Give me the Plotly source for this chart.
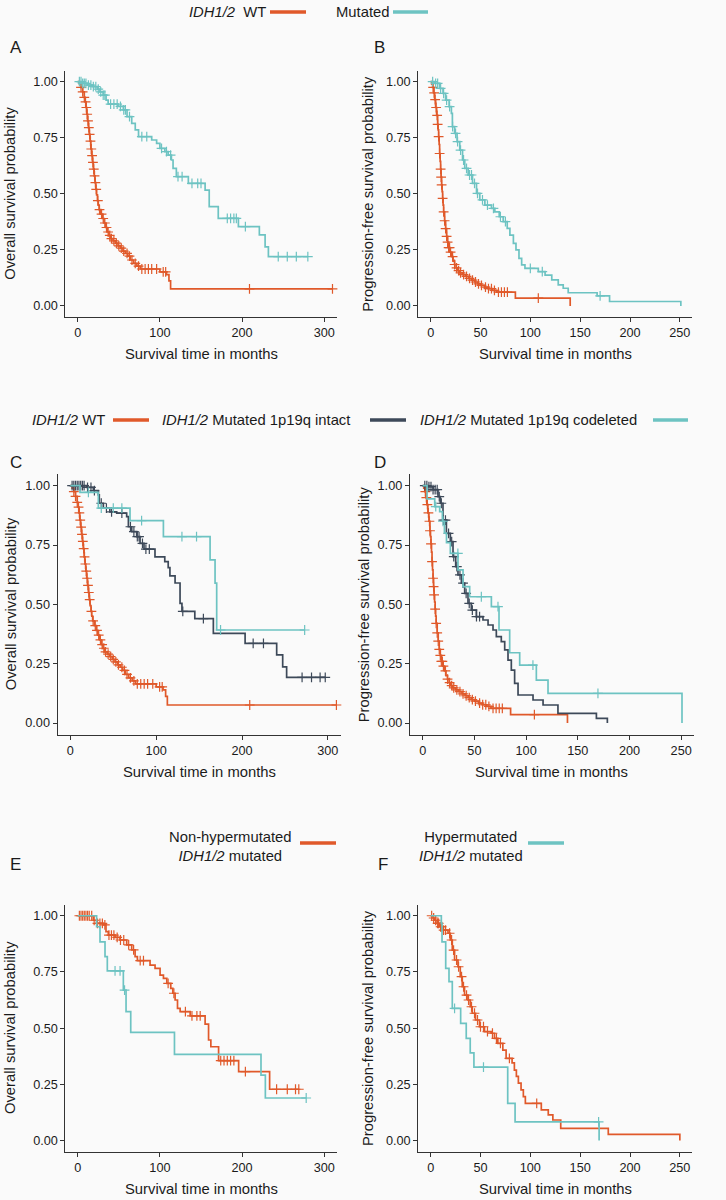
import numpy as np
import plotly.graph_objects as go

W, H = 726, 1200
ORANGE = "#E0592A"
TEAL = "#6DC3C2"
DARK = "#3D4959"
AXIS = "#333333"
BG = "#FAFAFA"
FONT = "Liberation Sans, Arial, sans-serif"

# ---------------- DATA ----------------
# IDH1/2 WT - overall survival (panels A, C)
wt_os_time = [0, 2, 4, 6, 8, 9, 10, 11, 12, 13, 14, 15, 16, 17, 18, 19, 20, 21, 22, 23, 24, 25, 26, 28,
              30, 32, 34, 36, 38, 40, 43, 46, 49, 52, 55, 58, 61, 64, 68, 72, 76, 100, 108, 111, 113]
wt_os_surv = [1, 0.99, 0.975, 0.955, 0.93, 0.91, 0.885, 0.855, 0.825, 0.795, 0.765, 0.735, 0.70, 0.67,
              0.64, 0.61, 0.58, 0.55, 0.52, 0.495, 0.47, 0.45, 0.43, 0.41, 0.39, 0.37, 0.35, 0.33, 0.315,
              0.30, 0.29, 0.28, 0.268, 0.258, 0.245, 0.235, 0.222, 0.205, 0.19, 0.178, 0.165, 0.152, 0.14,
              0.112, 0.076]
wt_os_end = 310
wt_os_cens = [4, 6, 8, 9.5, 10.5, 11.5, 12.5, 13.5, 14.5, 15.5, 16.5, 17.5, 18.5, 19.5, 20.5, 21.5, 22.5,
              24.5, 26.5, 29, 31, 33, 35, 37, 39, 41, 44, 47, 50, 53, 56, 60, 63, 66, 70, 74, 78, 82, 86,
              90, 96, 104, 107, 209, 310]

# IDH1/2 WT - progression-free survival (panels B, D)
wt_pfs_time = [0, 1, 2, 3, 4, 5, 6, 7, 7.5, 8, 8.5, 9, 9.5, 10, 10.5, 11, 11.5, 12, 12.5, 13, 14, 15, 16,
               17, 18, 19.5, 21, 22.5, 24, 25.5, 27, 29, 32, 35, 38, 41, 44, 47, 50, 54, 58, 62, 66, 85, 140]
wt_pfs_surv = [1, 0.99, 0.975, 0.95, 0.92, 0.885, 0.85, 0.81, 0.785, 0.755, 0.72, 0.68, 0.645, 0.61,
               0.575, 0.54, 0.51, 0.48, 0.45, 0.42, 0.38, 0.345, 0.31, 0.285, 0.26, 0.24, 0.22, 0.2, 0.185,
               0.17, 0.158, 0.148, 0.14, 0.132, 0.123, 0.115, 0.107, 0.099, 0.092, 0.084, 0.077, 0.07,
               0.062, 0.035, 0]
wt_pfs_end = 140
wt_pfs_cens = [2.5, 3.5, 4.5, 5.5, 6.5, 7, 8, 9, 10, 10.5, 11, 12, 13, 14, 15, 16, 17, 18, 19, 20, 22,
               24, 26, 28, 30, 33, 36, 39, 42, 45, 48, 51, 55, 58, 61, 64, 68, 71, 74, 77, 108]

# IDH1/2 mutated - overall survival (panel A)
mut_os_time = [0, 6, 12, 19, 24, 27, 31, 34.5, 37, 49, 55.5, 60, 65.7, 70, 74, 90, 96, 100, 106, 110,
               114, 116, 120, 134.6, 155, 160, 171, 195.5, 221, 228, 232]
mut_os_surv = [1, 0.993, 0.985, 0.978, 0.967, 0.955, 0.94, 0.918, 0.90, 0.89, 0.874, 0.844, 0.814, 0.785,
               0.755, 0.74, 0.725, 0.703, 0.688, 0.673, 0.651, 0.614, 0.577, 0.547, 0.517, 0.443, 0.391,
               0.354, 0.317, 0.264, 0.22]
mut_os_end = 280
mut_os_cens = [2, 4, 6, 8, 10, 13, 16, 19, 22, 25, 28, 31, 33, 40, 44, 48, 52, 56, 58, 63, 78, 84, 102,
               108, 113, 122, 127, 139, 146, 150, 182, 186, 190, 193, 204, 244, 255, 266, 280]

# IDH1/2 mutated - progression-free survival (panel B)
mut_pfs_time = [0, 4, 9, 12.4, 15, 18.5, 20.8, 21.8, 24, 26.5, 29.2, 32, 34.2, 37.6, 42, 46, 49.3, 54.4,
                61, 64.4, 68.8, 72.8, 76.8, 79.5, 83, 85.6, 88.6, 91.3, 94.6, 108, 114.8, 121.5, 128, 133,
                138, 167, 179.5, 251]
mut_pfs_surv = [1, 0.993, 0.97, 0.948, 0.918, 0.889, 0.859, 0.80, 0.77, 0.733, 0.695, 0.651, 0.614, 0.584,
                0.547, 0.502, 0.473, 0.45, 0.435, 0.42, 0.398, 0.376, 0.346, 0.316, 0.279, 0.25, 0.212,
                0.183, 0.168, 0.153, 0.138, 0.116, 0.094, 0.079, 0.059, 0.045, 0.02, 0]
mut_pfs_end = 251
mut_pfs_cens = [2, 5, 7, 10, 13, 16, 19, 22, 25, 27, 30, 33, 36, 39, 41, 44, 47, 52, 57, 63, 70, 75, 100,
                112, 170]

# IDH1/2 mutated 1p19q intact - overall survival (panel C)
int_os_time = [0, 19, 26.8, 32.6, 33.7, 38.4, 46, 54, 65.6, 67.6, 71.5, 77.3, 81.2, 85.8, 98.6, 110, 114,
               116, 122, 127.8, 130, 145, 166.6, 203.6, 240.4, 247.4, 252]
int_os_surv = [1, 0.993, 0.979, 0.961, 0.926, 0.905, 0.89, 0.884, 0.87, 0.827, 0.806, 0.785, 0.757, 0.733,
               0.70, 0.68, 0.655, 0.62, 0.59, 0.504, 0.47, 0.44, 0.378, 0.336, 0.287, 0.237, 0.192]
int_os_end = 297
int_os_cens = [2, 4, 6, 8, 10, 12, 14, 16, 20, 24, 28, 36, 42, 48, 60, 70, 74, 78, 80, 84, 88, 92, 131,
               155, 213, 225, 270, 281, 291, 297]

# IDH1/2 mutated 1p19q codeleted - overall survival (panel C)
cod_os_time = [0, 11.2, 32.6, 69.5, 108.4, 162.8, 168.6, 170.5]
cod_os_surv = [1, 0.972, 0.905, 0.853, 0.785, 0.687, 0.589, 0.392]
cod_os_end = 273
cod_os_cens = [21, 36, 50, 60, 83, 130, 147, 175, 273]

# IDH1/2 mutated 1p19q intact - progression-free survival (panel D)
int_pfs_time = [0, 5, 10, 14.8, 17, 19.6, 22.9, 26.7, 29.3, 31.9, 34.1, 37.4, 40.6, 43.8, 47, 51.9, 58.3,
                63.2, 68, 71.2, 76, 79.3, 82.5, 85.7, 88.9, 92.2, 106.7, 116.4, 130.8, 168, 178.6]
int_pfs_surv = [1, 0.996, 0.983, 0.954, 0.926, 0.855, 0.799, 0.764, 0.701, 0.659, 0.624, 0.589, 0.546,
                0.504, 0.476, 0.448, 0.434, 0.413, 0.392, 0.364, 0.343, 0.308, 0.265, 0.223, 0.167, 0.118,
                0.097, 0.076, 0.041, 0.020, 0]
int_pfs_end = 178.6
int_pfs_cens = [2, 4, 6, 8, 10, 12, 14, 16, 18, 20, 22, 25, 28, 30, 33, 36, 39, 42, 45, 48, 52, 55]

# IDH1/2 mutated 1p19q codeleted - progression-free survival (panel D)
cod_pfs_time = [0, 4.2, 11.6, 16.4, 19, 21, 23, 26.7, 34.1, 39, 45.4, 66.4, 73.8, 84.1, 93.8, 109.9,
                121.2, 250.8]
cod_pfs_surv = [1, 0.944, 0.912, 0.891, 0.85, 0.80, 0.76, 0.715, 0.645, 0.575, 0.532, 0.49, 0.392, 0.296,
                0.244, 0.181, 0.125, 0]
cod_pfs_end = 250.8
cod_pfs_cens = [12.6, 19.6, 34, 56.7, 72.8, 106.6, 169.5]

# Non-hypermutated IDH1/2 mutated - overall survival (panel E)
nhm_os_time = [0, 19, 23, 31, 34.4, 37.2, 45.4, 51.5, 59.6, 65.7, 69.8, 72.6, 88, 94.1, 100.2, 104.3,
               108.4, 113.2, 115.7, 118.5, 121.4, 124.6, 136.8, 155, 159.2, 162, 171.4, 195.8, 233.5]
nhm_os_surv = [1, 0.98, 0.966, 0.959, 0.929, 0.914, 0.904, 0.892, 0.87, 0.848, 0.818, 0.80, 0.78, 0.766,
               0.736, 0.721, 0.699, 0.677, 0.655, 0.625, 0.588, 0.573, 0.554, 0.518, 0.447, 0.417, 0.355,
               0.306, 0.228]
nhm_os_end = 269
nhm_os_cens = [2, 4, 6, 8, 10, 12, 14, 17, 20, 24, 27, 30, 33, 38, 41, 44, 48, 52, 56, 62, 68, 76, 80,
               110, 117, 131, 139, 145, 149, 174, 178, 182, 186, 190, 204, 242, 255, 265, 269]

# Hypermutated IDH1/2 mutated - overall survival (panel E)
hm_os_time = [0, 23, 27.1, 33.2, 36, 55.5, 58.8, 64.5, 117.7, 223, 228.3]
hm_os_surv = [1, 0.951, 0.884, 0.818, 0.755, 0.669, 0.573, 0.481, 0.383, 0.291, 0.189]
hm_os_end = 278
hm_os_cens = [45.4, 51.5, 57, 278]

# Non-hypermutated IDH1/2 mutated - progression-free survival (panel F)
nhm_pfs_time = [0, 2.4, 4, 6.4, 9, 12.4, 17.4, 19.7, 21.7, 24, 27.4, 29.7, 31.7, 34, 37.4, 39.7, 41.7, 45,
                49, 54, 60.7, 64, 67.4, 72.4, 75.7, 81.7, 84, 86, 88, 90.7, 93, 95, 111, 118, 122.6, 130.5,
                178.2, 250]
nhm_pfs_surv = [1, 0.99, 0.98, 0.966, 0.951, 0.936, 0.922, 0.892, 0.847, 0.803, 0.773, 0.729, 0.684, 0.647,
                0.625, 0.595, 0.566, 0.536, 0.506, 0.484, 0.477, 0.454, 0.432, 0.402, 0.365, 0.345, 0.313,
                0.285, 0.255, 0.225, 0.195, 0.165, 0.136, 0.114, 0.091, 0.054, 0.027, 0]
nhm_pfs_end = 250
nhm_pfs_cens = [1, 3, 5, 7, 8, 10, 11, 13, 15, 19, 21, 23, 26, 28, 31, 33, 36, 38, 41, 44, 47, 50, 53, 57,
                62, 66, 70, 79, 106.4]

# Hypermutated IDH1/2 mutated - progression-free survival (panel F)
hm_pfs_time = [0, 10.7, 11.4, 15.1, 18.4, 21.7, 30.1, 35.7, 39.7, 43.4, 77.3, 84.7, 169]
hm_pfs_surv = [1, 0.966, 0.884, 0.766, 0.707, 0.588, 0.521, 0.454, 0.39, 0.326, 0.165, 0.083, 0]
hm_pfs_end = 169
hm_pfs_cens = [24, 53, 168.5]

y_ticks = [0, 0.25, 0.5, 0.75, 1.0]
y_ticktext = ["0.00", "0.25", "0.50", "0.75", "1.00"]
os_xticks = [0, 100, 200, 300]
pfs_xticks = [0, 50, 100, 150, 200, 250]
x_title = "Survival time in months"
os_title = "Overall survival probability"
pfs_title = "Progression-free survival probability"

# ---------------- LAYOUT (pixels) ----------------
def px(x):
    return x / W

def py(y):
    return 1 - y / H

panels = [
    dict(L="A", x0=65.4, x1=336.6, y0=70.5, y1=317.2, xr=[-15, 315], xt=os_xticks, yt=os_title, ytx=10, lx=8, ly=47),
    dict(L="B", x0=418.2, x1=692.3, y0=70.5, y1=317.2, xr=[-12.5, 262.5], xt=pfs_xticks, yt=pfs_title, ytx=368, lx=372, ly=47),
    dict(L="C", x0=57.5, x1=340.7, y0=473.8, y1=734.9, xr=[-15, 315], xt=os_xticks, yt=os_title, ytx=11, lx=8, ly=462),
    dict(L="D", x0=409.8, x1=694.1, y0=473.8, y1=734.9, xr=[-12.5, 262.5], xt=pfs_xticks, yt=pfs_title, ytx=364, lx=372, ly=462),
    dict(L="E", x0=65.4, x1=336.6, y0=904.5, y1=1151.7, xr=[-15, 315], xt=os_xticks, yt=os_title, ytx=10, lx=8, ly=864),
    dict(L="F", x0=418.2, x1=692.3, y0=904.5, y1=1151.7, xr=[-12.5, 262.5], xt=pfs_xticks, yt=pfs_title, ytx=368, lx=376, ly=864),
]

curves = {
    1: [(wt_os_time, wt_os_surv, wt_os_end, wt_os_cens, ORANGE),
        (mut_os_time, mut_os_surv, mut_os_end, mut_os_cens, TEAL)],
    2: [(wt_pfs_time, wt_pfs_surv, wt_pfs_end, wt_pfs_cens, ORANGE),
        (mut_pfs_time, mut_pfs_surv, mut_pfs_end, mut_pfs_cens, TEAL)],
    3: [(wt_os_time, wt_os_surv, wt_os_end, wt_os_cens, ORANGE),
        (int_os_time, int_os_surv, int_os_end, int_os_cens, DARK),
        (cod_os_time, cod_os_surv, cod_os_end, cod_os_cens, TEAL)],
    4: [(wt_pfs_time, wt_pfs_surv, wt_pfs_end, wt_pfs_cens, ORANGE),
        (int_pfs_time, int_pfs_surv, int_pfs_end, int_pfs_cens, DARK),
        (cod_pfs_time, cod_pfs_surv, cod_pfs_end, cod_pfs_cens, TEAL)],
    5: [(nhm_os_time, nhm_os_surv, nhm_os_end, nhm_os_cens, ORANGE),
        (hm_os_time, hm_os_surv, hm_os_end, hm_os_cens, TEAL)],
    6: [(nhm_pfs_time, nhm_pfs_surv, nhm_pfs_end, nhm_pfs_cens, ORANGE),
        (hm_pfs_time, hm_pfs_surv, hm_pfs_end, hm_pfs_cens, TEAL)],
}

fig = go.Figure()
annotations = []
shapes = []
layout_axes = {}

for i, p in enumerate(panels, start=1):
    xk = "xaxis" if i == 1 else f"xaxis{i}"
    yk = "yaxis" if i == 1 else f"yaxis{i}"
    xref = "x" if i == 1 else f"x{i}"
    yref = "y" if i == 1 else f"y{i}"
    layout_axes[xk] = dict(
        domain=[px(p["x0"]), px(p["x1"])], range=p["xr"], anchor=yref,
        tickvals=p["xt"], ticktext=[str(v) for v in p["xt"]],
        showline=True, linecolor=AXIS, linewidth=1, ticks="outside", ticklen=4,
        tickcolor=AXIS, tickwidth=1, showgrid=False, zeroline=False,
        tickfont=dict(family=FONT, size=12.7, color="#1a1a1a"), fixedrange=True,
    )
    layout_axes[yk] = dict(
        domain=[py(p["y1"]), py(p["y0"])], range=[-0.05, 1.05], anchor=xref,
        tickvals=y_ticks, ticktext=y_ticktext,
        showline=True, linecolor=AXIS, linewidth=1, ticks="outside", ticklen=4,
        tickcolor=AXIS, tickwidth=1, showgrid=False, zeroline=False,
        tickfont=dict(family=FONT, size=12.7, color="#1a1a1a"), fixedrange=True,
    )
    for (t, s, end, cens, col) in curves[i]:
        xs = list(t) + [end]
        ys = list(s) + [s[-1]]
        fig.add_trace(go.Scatter(x=xs, y=ys, mode="lines", xaxis=xref, yaxis=yref,
                                 line=dict(color=col, width=1.7, shape="hv"),
                                 showlegend=False, hoverinfo="skip"))
        idx = np.searchsorted(np.array(t), np.array(cens), side="right") - 1
        cy = np.array(s)[idx]
        fig.add_trace(go.Scatter(x=cens, y=cy, mode="markers", xaxis=xref, yaxis=yref,
                                 marker=dict(symbol="cross-thin", size=7,
                                             line=dict(color=col, width=1.2)),
                                 cliponaxis=False, showlegend=False, hoverinfo="skip"))
    # x title
    annotations.append(dict(text=x_title, x=px((p["x0"] + p["x1"]) / 2), y=py(p["y1"] + 37),
                            xref="paper", yref="paper", showarrow=False, xanchor="center",
                            yanchor="middle", font=dict(family=FONT, size=14.8, color="#1a1a1a")))
    # y title
    annotations.append(dict(text=p["yt"], x=px(p["ytx"]), y=py((p["y0"] + p["y1"]) / 2),
                            xref="paper", yref="paper", showarrow=False, textangle=-90,
                            xanchor="center", yanchor="middle",
                            font=dict(family=FONT, size=14.8, color="#1a1a1a")))
    # panel letter
    annotations.append(dict(text=p["L"], x=px(p["lx"]), y=py(p["ly"]), xref="paper", yref="paper",
                            showarrow=False, xanchor="left", yanchor="middle",
                            font=dict(family=FONT, size=17, color="#1a1a1a")))

def legend_text(text, x_right=None, x_left=None, y=0):
    d = dict(text=text, y=py(y), xref="paper", yref="paper", showarrow=False, yanchor="middle",
             font=dict(family=FONT, size=14.8, color="#1a1a1a"))
    if x_right is not None:
        d.update(x=px(x_right), xanchor="right")
    else:
        d.update(x=px(x_left), xanchor="left")
    annotations.append(d)

def legend_line(x0, x1, y, col):
    shapes.append(dict(type="line", xref="paper", yref="paper", x0=px(x0), x1=px(x1),
                       y0=py(y), y1=py(y), line=dict(color=col, width=3.5)))

# top legend
legend_text("<i>IDH1/2</i>  WT", x_right=268, y=12)
legend_line(270, 306, 12, ORANGE)
legend_text("Mutated", x_left=334, y=12)
legend_line(393, 428, 12, TEAL)

# middle legend
legend_text("<i>IDH1/2</i> WT", x_left=30, y=420)
legend_line(113, 149, 420, ORANGE)
legend_text("<i>IDH1/2</i> Mutated 1p19q intact", x_left=160, y=420)
legend_line(370, 406, 420, DARK)
legend_text("<i>IDH1/2</i> Mutated 1p19q codeleted", x_left=418, y=420)
legend_line(653, 688, 420, TEAL)

# bottom legends
annotations.append(dict(text="Non-hypermutated<br><i>IDH1/2</i> mutated", x=px(230), y=py(846),
                        xref="paper", yref="paper", showarrow=False, xanchor="center",
                        yanchor="middle", align="center",
                        font=dict(family=FONT, size=14.8, color="#1a1a1a")))
legend_line(300, 336, 843, ORANGE)
annotations.append(dict(text="Hypermutated<br><i>IDH1/2</i> mutated", x=px(471), y=py(846),
                        xref="paper", yref="paper", showarrow=False, xanchor="center",
                        yanchor="middle", align="center",
                        font=dict(family=FONT, size=14.8, color="#1a1a1a")))
legend_line(528, 564, 843, TEAL)

fig.update_layout(
    width=W, height=H, margin=dict(l=0, r=0, t=0, b=0),
    paper_bgcolor=BG, plot_bgcolor=BG, showlegend=False,
    annotations=annotations, shapes=shapes,
    font=dict(family=FONT, color="#1a1a1a"),
    **layout_axes,
)

fig.write_html(
    "out.html",
    config={"displayModeBar": False, "staticPlot": True},
    post_script="document.body.style.margin='0';document.body.style.padding='0';"
                "document.body.style.background='#FAFAFA';document.body.style.overflow='hidden';",
)
